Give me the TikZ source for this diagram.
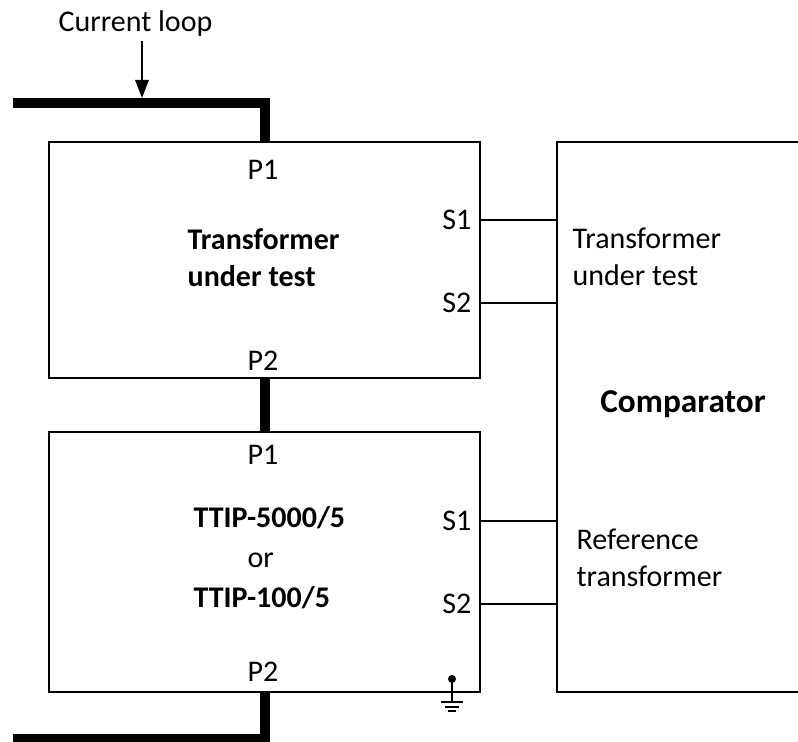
\documentclass[tikz,border=0pt]{standalone}
\usepackage{fontspec}
\setmainfont{Carlito}
\usetikzlibrary{positioning, arrows.meta}

\begin{document}
\begin{tikzpicture}[
    x=0.3pt, y=-0.3pt,
    txt/.style={inner sep=0pt, font=\fontsize{9}{11.1}\selectfont},
    btxt/.style={inner sep=0pt, font=\fontsize{9}{11.1}\selectfont\bfseries},
    box/.style={draw, line width=0.8pt, inner sep=0pt},
    bus/.style={line width=3pt, line join=miter},
    wire/.style={line width=0.6pt},
    arr/.style={-{Triangle[length=5.4pt, width=4pt]}, line width=0.6pt},
  ]
    \clip (0,0) rectangle (798,742);
    \node[box, minimum width=129.3pt, minimum height=70.8pt] (dut) at (264.5,260) {};
    \node[box, minimum width=129.3pt, minimum height=78pt] (ref) at (264.5,562) {};
    \node[box, minimum width=81.9pt, minimum height=165pt] (cmp) at (693.5,417) {};

    % current loop
    \node[txt] (cl) at (135.5,24) {Current loop};
    \coordinate (hit) at (142,98);
    \coordinate (in) at (13,103);
    \coordinate (out) at (13,739);
    \draw[arr, shorten <=1.2pt] (cl.south -| hit) -- (hit);
    \draw[bus] (in) -| (dut.north);
    \draw[bus] (dut.south) -- (ref.north);
    \draw[bus] (ref.south) |- (out);

    % transformer under test
    \node[txt] (dutp1) at (263,170) {P1};
    \node[txt] (dutp2) at (263,361) {P2};
    \node[txt, anchor=east] (duts1) at (472,220) {S1};
    \node[txt, anchor=east] (duts2) at (472,303) {S2};
    \node[btxt, anchor=west, align=left] (dutname) at (187,258) {Transformer\\under test};

    % reference transformer
    \node[txt] (refp1) at (263,455) {P1};
    \node[txt] (refp2) at (263,672) {P2};
    \node[txt, anchor=east] (refs1) at (472,521) {S1};
    \node[txt, anchor=east] (refs2) at (472,604) {S2};
    \node[btxt, font=\fontsize{9}{12}\selectfont\bfseries, anchor=west, align=left] (refname) at (193,558)
      {TTIP-5000/5\\\hspace*{16.2pt}\mdseries or\\TTIP-100/5};

    % comparator
    \node[txt, anchor=west, align=left] (cmpdut) at (572,257) {Transformer\\under test};
    \node[btxt, font=\fontsize{10}{12}\selectfont\bfseries] (cmpname) at (683,404) {Comparator};
    \node[txt, anchor=west, align=left] (cmpref) at (576,558) {Reference\\transformer};

    \draw[wire] (duts1.east -| dut.east) -- (duts1.east -| cmp.west);
    \draw[wire] (duts2.east -| dut.east) -- (duts2.east -| cmp.west);
    \draw[wire] (refs1.east -| ref.east) -- (refs1.east -| cmp.west);
    \draw[wire] (refs2.east -| ref.east) -- (refs2.east -| cmp.west);

    % ground
    \coordinate (gnd) at (452,679);
    \fill (gnd) circle[radius=4];
    \draw[wire] (gnd) -- ++(0,23) coordinate (gbase);
    \draw[wire] (gbase) ++(-11,0) -- ++(22,0);
    \draw[wire] (gbase) ++(-7,5) -- ++(14,0);
    \draw[wire] (gbase) ++(-4,9) -- ++(8,0);
\end{tikzpicture}
\end{document}
